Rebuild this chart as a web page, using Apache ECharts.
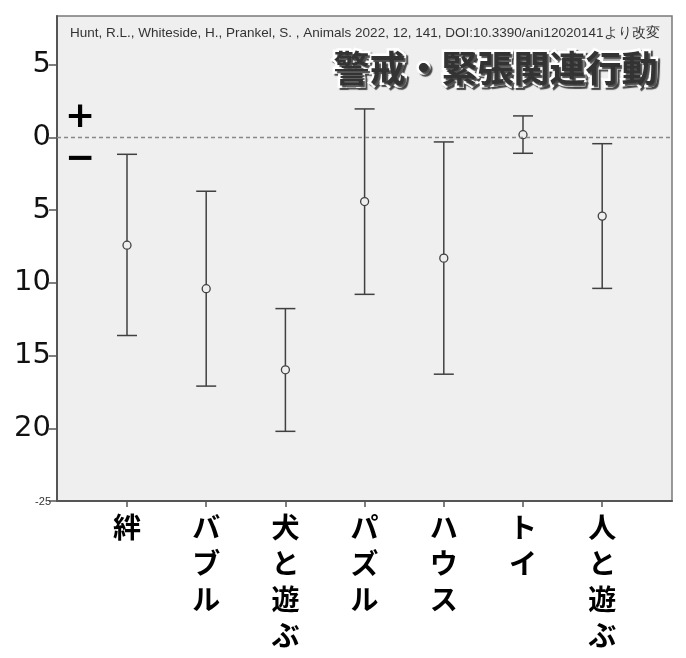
<!DOCTYPE html>
<html>
<head>
<meta charset="utf-8">
<script src="https://cdn.jsdelivr.net/npm/echarts@6/dist/echarts.min.js"></script>
<style>
html,body{margin:0;padding:0;background:#fff;}
#main{width:686px;height:658px;}
</style>
</head>
<body>
<div id="main"></div>
<script>
// ---- data ----
const categories = ['絆', 'バブル', '犬と遊ぶ', 'パズル', 'ハウス', 'トイ', '人と遊ぶ'];
const means = [-7.41, -10.40, -15.98, -4.41, -8.30, 0.19, -5.41];
const upper = [-1.16, -3.70, -11.77, 1.96, -0.31, 1.48, -0.43];
const lower = [-13.62, -17.10, -20.21, -10.79, -16.28, -1.09, -10.38];
const yTicks = [-25, -20, -15, -10, -5, 0, 5];
const titleText = '警戒・緊張関連行動';
const sourceText = 'Hunt, R.L., Whiteside, H., Prankel, S. , Animals 2022, 12, 141, DOI:10.3390/ani12020141より改変';

const yMin = -25, yMax = 8.35;

const chart = echarts.init(document.getElementById('main'), null, {renderer: 'canvas'});

const errData = categories.map((c, i) => [i, lower[i], means[i], upper[i]]);

const option = {
  backgroundColor: '#ffffff',
  animation: false,
  grid: [
    {left: 57, top: 16, width: 615, height: 485, show: true, backgroundColor: '#efefef', borderColor: '#7a7a7a', borderWidth: 1.5},
    {left: 87.4, top: 16, width: 554.4, height: 485}
  ],
  xAxis: [
    {gridIndex: 0, type: 'value', min: 0, max: 1, axisLine: {show: true, onZero: false, lineStyle: {color: '#555', width: 2}}, axisTick: {show: false}, axisLabel: {show: false}, splitLine: {show: false}},
    {gridIndex: 1, type: 'category', data: categories, boundaryGap: true, position: 'bottom',
      axisLine: {show: false, onZero: false},
      axisTick: {show: true, alignWithLabel: true, length: 6, lineStyle: {color: '#555', width: 1.5}},
      axisLabel: {margin: 8, interval: 0, color: '#000', fontSize: 28, fontWeight: 'bold', lineHeight: 36,
        fontFamily: 'Noto Sans CJK JP', verticalAlign: 'top',
        formatter: v => v.split('').join('\n')},
      splitLine: {show: false}}
  ],
  yAxis: [
    {gridIndex: 0, type: 'value', min: yMin, max: yMax, interval: 5,
      axisLine: {show: true, lineStyle: {color: '#555', width: 2}},
      axisTick: {show: true, length: 8, lineStyle: {color: '#555', width: 1.5}},
      splitLine: {show: false},
      axisLabel: {margin: 6, color: '#111', fontSize: 29, fontFamily: 'DejaVu Sans',
        showMaxLabel: false,
        formatter: v => (v === -25 ? '{s|-25}' : String(Math.abs(v))),
        rich: {s: {fontSize: 11, color: '#333', fontFamily: 'Liberation Sans', padding: [2, 0, 0, 0]}}}},
    {gridIndex: 1, type: 'value', min: yMin, max: yMax, interval: 5, show: false}
  ],
  series: [
    {
      type: 'line', xAxisIndex: 0, yAxisIndex: 0, data: [], silent: true,
      markLine: {silent: true, symbol: 'none', label: {show: false},
        lineStyle: {color: '#888', type: [4, 3], width: 1.3},
        data: [{yAxis: 0}]}
    },
    {
      type: 'custom', xAxisIndex: 1, yAxisIndex: 1, data: errData, silent: true,
      renderItem: function (params, api) {
        const x = api.value(0);
        const lo = api.coord([x, api.value(1)]);
        const mid = api.coord([x, api.value(2)]);
        const hi = api.coord([x, api.value(3)]);
        const hw = 10, r = 4;
        const st = {stroke: '#404040', lineWidth: 1.5, fill: null};
        return {
          type: 'group',
          children: [
            {type: 'line', shape: {x1: hi[0], y1: hi[1], x2: hi[0], y2: mid[1] - r}, style: st},
            {type: 'line', shape: {x1: lo[0], y1: lo[1], x2: lo[0], y2: mid[1] + r}, style: st},
            {type: 'line', shape: {x1: hi[0] - hw, y1: hi[1], x2: hi[0] + hw, y2: hi[1]}, style: st},
            {type: 'line', shape: {x1: lo[0] - hw, y1: lo[1], x2: lo[0] + hw, y2: lo[1]}, style: st},
            {type: 'circle', shape: {cx: mid[0], cy: mid[1], r: r}, style: {stroke: '#404040', lineWidth: 1.3, fill: 'rgba(0,0,0,0)'}}
          ]
        };
      }
    }
  ],
  graphic: [
    {type: 'text', left: 70, top: 26, style: {text: sourceText, fontSize: 13.5, fontFamily: 'Liberation Sans', fill: '#333'}},
    {type: 'text', right: 26, top: 48, style: {text: titleText, fontSize: 36, fontWeight: 'bold', fontFamily: 'Noto Sans CJK JP', fill: '#333', stroke: '#fff', lineWidth: 5, textShadowColor: 'rgba(0,0,0,0.7)', textShadowOffsetX: 2, textShadowOffsetY: 2, textShadowBlur: 1}},
    {type: 'text', left: 65, top: 100, style: {text: '+', fontSize: 36, fontWeight: 'bold', fontFamily: 'DejaVu Sans', fill: '#000'}},
    {type: 'text', left: 65, top: 142, style: {text: '−', fontSize: 36, fontWeight: 'bold', fontFamily: 'DejaVu Sans', fill: '#000'}}
  ]
};
chart.setOption(option);
</script>
</body>
</html>
